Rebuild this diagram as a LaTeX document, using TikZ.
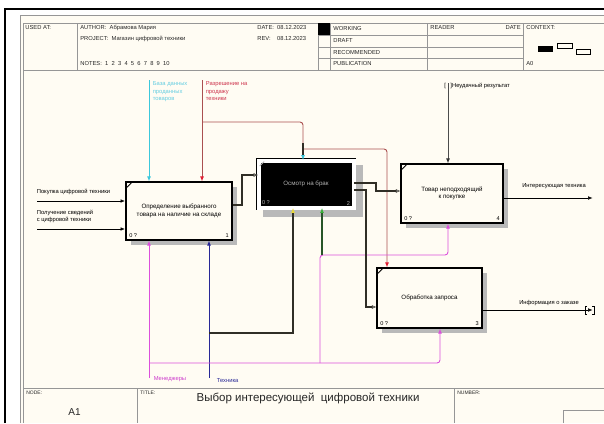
\documentclass[tikz,border=0pt]{standalone}
\newcommand{\boxmarks}[3]{%
  \node[boxnum, text=#3, anchor=south west] (#1cost) at ($(#1.south west)+(2.5,-1.5)$) {0 ?};
  \node[boxnum, text=#3, anchor=south east] (#1num) at ($(#1.south east)+(-2.5,-1.5)$) {#2};
  \draw[#3, line width=0.9pt] ($(#1.north west)+(1.5,6)$) -- ($(#1.north west)+(6,1.5)$);
}
\usepackage{fontspec}
\setmainfont{Liberation Sans}
\usepackage{tikz}
\usetikzlibrary{
  arrows.meta,
  calc,
  positioning,
  shadows
}

\definecolor{paper}{RGB}{255,252,243}
\definecolor{gridgray}{RGB}{150,150,150}
\definecolor{ctrlcyan}{RGB}{60,200,220}
\definecolor{labcyan}{RGB}{100,205,225}
\definecolor{ctrlred}{RGB}{170,80,80}
\definecolor{tipred}{RGB}{225,30,50}
\definecolor{labred}{RGB}{205,50,75}
\definecolor{mechmag}{RGB}{220,80,220}
\definecolor{labmag}{RGB}{205,60,205}
\definecolor{mechblue}{RGB}{40,40,150}
\definecolor{heavy}{RGB}{48,46,38}
\definecolor{heavygreen}{RGB}{40,85,40}
\definecolor{tipgreen}{RGB}{60,175,60}
\definecolor{tipyellow}{RGB}{230,215,60}

\begin{document}
\begin{tikzpicture}[x=1pt, y=-1pt]

\tikzset{
  fnbox/.style={
    draw,
    rectangle,
    fill=paper,
    line width=1.2pt,
    align=center,
    font=\fontsize{6.2}{7.6}\selectfont,
    drop shadow={shadow xshift=5pt, shadow yshift=-5pt, fill=gray!55, opacity=1}
  },
  selbox/.style={
    draw=black,
    rectangle,
    fill=black,
    double=white,
    double distance=4pt,
    line width=0.7pt,
    text=gray!60,
    align=center,
    font=\fontsize{6.2}{7.6}\selectfont
  },
  boxnum/.style={font=\fontsize{5.6}{6}\selectfont, inner sep=1pt},
  lbl/.style={font=\fontsize{5.8}{7.4}\selectfont, inner sep=0.5pt, align=left},
  hdr/.style={font=\fontsize{5.8}{7}\selectfont, inner sep=0pt, anchor=west, text=black!85},
  tipin/.style={-{Latex[length=5pt, width=4pt, color=#1]}},
  colline/.style={draw=#1, line width=0.9pt},
  heavyline/.style={draw=heavy, line width=2.3pt},
  opentip/.style={-{Latex[open, length=4.5pt, width=4pt, line width=0.6pt, fill=white]}},
  >={Latex[length=5pt, width=4pt]},
  line width=0.7pt
}

\useasboundingbox (0,0) rectangle (604,423);

% FRAME ----------------------------------------------------------

\fill[white] (0,0) rectangle (604,423);
\fill[paper] (20,15) rectangle (604,423);
\draw[line width=2.6pt] (5,423) -- (5,9) -- (604,9);
\draw[gridgray] (20,423) -- (20,15) -- (604,15);
\draw[gridgray] (23,423) -- (23,23) -- (604,23);

% header grid
\draw[gridgray] (23,70) -- (604,70);
\foreach \hx in {77,318,330,427,523}
  \draw[gridgray] (\hx,23) -- (\hx,70);
\foreach \hy in {35,47,58}
  \draw[gridgray] (318,\hy) -- (523,\hy);
\fill[black] (318,23) rectangle (330,35);

% context pictogram
\fill[black] (538,46) rectangle (553,52);
\draw[line width=0.5pt] (557,43) rectangle (572,48);
\draw[line width=0.5pt] (576,49) rectangle (590,54);

% footer grid
\draw[gridgray] (23,388) -- (604,388);
\draw[gridgray] (137,388) -- (137,423);
\draw[gridgray] (454,388) -- (454,423);
\draw[gridgray] (563,423) -- (563,410) -- (604,410);

% header texts
\node[hdr] (usedat)  at (25,28)  {USED AT:};
\node[hdr] (author)  at (80,28)  {AUTHOR:\ \ Абрамова Мария};
\node[hdr] (project) at (80,39)  {PROJECT:\ \ Магазин цифровой техники};
\node[hdr] (notes)   at (80,64)  {NOTES:\ \ 1\ \ 2\ \ 3\ \ 4\ \ 5\ \ 6\ \ 7\ \ 8\ \ 9\ \ 10};
\node[hdr] (date)    at (257,28) {DATE:\ \ 08.12.2023};
\node[hdr] (rev)     at (257,39) {REV:\ \ \ \ 08.12.2023};
\node[hdr] (working) at (333,29) {WORKING};
\node[hdr] (draft)   at (333,41) {DRAFT};
\node[hdr] (recomm)  at (333,52.5) {RECOMMENDED};
\node[hdr] (public)  at (333,64) {PUBLICATION};
\node[hdr] (reader)  at (430,28) {READER};
\node[hdr, anchor=east] (rdate) at (521,28) {DATE};
\node[hdr] (context) at (526,28) {CONTEXT:};
\node[hdr] (ctxa)    at (526,64) {A0};

% footer texts
\node[hdr, font=\fontsize{5}{6}\selectfont] (nodelab)  at (26,393) {NODE:};
\node[hdr, font=\fontsize{10}{12}\selectfont] (nodenum) at (68,412) {A1};
\node[hdr, font=\fontsize{5}{6}\selectfont] (titlelab) at (140,393) {TITLE:};
\node[hdr, font=\fontsize{11.5}{13}\selectfont, anchor=center] (title) at (308,398) {Выбор интересующей\ \ цифровой техники};
\node[hdr, font=\fontsize{5}{6}\selectfont] (numlab)   at (457,393) {NUMBER:};

% NODES ----------------------------------------------------------

% shadow of the selected box
\fill[gray!55] (263,165) rectangle (363,217);

% Function boxes
\node[fnbox, minimum width=106pt, minimum height=58pt] (opred) at (179,211)
  {Определение выбранного\\товара на наличие на складе};
\node[selbox, minimum width=95pt, minimum height=47pt] (osmotr) at (306,184)
  {Осмотр на брак};
\node[fnbox, minimum width=102pt, minimum height=59pt] (tovar) at (452,193.5)
  {Товар неподходящий\\к покупке};
\node[fnbox, minimum width=105pt, minimum height=60pt] (obrab) at (429.5,298)
  {Обработка запроса};

\boxmarks{opred}{1}{black}
\boxmarks{osmotr}{2}{gray!60}
\boxmarks{tovar}{4}{black}
\boxmarks{obrab}{3}{black}

% Free ends and bends
\coordinate (inbuy)    at (37,201);
\coordinate (ininfo)   at (37,229);
\coordinate (ctrldb)   at (149,80);
\coordinate (ctrlperm) at (202,80);
\coordinate (permsplit) at (202,122);
\coordinate (permjoin) at (303,149);
\coordinate (permdrop) at (387,149);
\coordinate (ctrlfail) at (448,83);
\coordinate (outint)   at (593,198);
\coordinate (outinfo)  at (593,310);
\coordinate (mechmgr)  at (149,378);
\coordinate (mechtech) at (209,378);
\coordinate (mgrsplit) at (149,363);
\coordinate (mgrrise)  at (320,363);
\coordinate (mgrjoin)  at (320,255);
\coordinate (mgrbox)   at (440,363);
\coordinate (mgrtovar) at (448,255);
\coordinate (greenfoot) at (322,255);
\coordinate (techsplit) at (209,333);
\coordinate (techrise) at (293,333);
\coordinate (outa)     at (242,205);
\coordinate (outb)     at (242,175);
\coordinate (outc)     at (376,183);
\coordinate (outd)     at (376,191);
\coordinate (oute)     at (366,190);
\coordinate (outf)     at (366,307);

% Labels
\node[lbl, anchor=west] (buylab) at (36,192) {Покупка цифровой техники};
\node[lbl, anchor=north west] (infolab) at (36,209) {Получение сведений\\с цифровой техники};
\node[lbl, anchor=north west, text=labcyan] (dblab) at (152,81) {База данных\\проданных\\товаров};
\node[lbl, anchor=north west, text=labred] (permlab) at (205,81) {Разрешение на\\продажу\\техники};
\node[lbl, anchor=west] (faillab) at (443.5,86) {[\hspace{4.5pt}]Неудачный результат};
\node[lbl] (intlab) at (554,186) {Интересующая техника};
\node[lbl] (orderlab) at (549,303) {Информация о заказе};
\node[lbl, anchor=west, text=labmag] (mgrlab) at (153,379) {Менеджеры};
\node[lbl, anchor=west, text=mechblue] (techlab) at (216,381) {Техника};

% DRAWS ---------------------------------------------------------

% Inputs
\draw[->] (inbuy) -- (inbuy -| opred.west);
\draw[->] (ininfo) -- (ininfo -| opred.west);

% Controls
\draw[colline=ctrlcyan, tipin=ctrlcyan] (ctrldb) -- (ctrldb |- opred.north);
\draw[colline=ctrlred, tipin=tipred] (ctrlperm) -- (ctrlperm |- opred.north);
\draw[colline=ctrlred, rounded corners=3pt] (permsplit) -- (permsplit -| permjoin) -- ($(permjoin)+(0,-6)$);
\draw[colline=ctrlred, rounded corners=3pt, tipin=tipred] (permjoin) -- (permdrop) -- (permdrop |- obrab.north);
\draw[heavyline, tipin=ctrlcyan] ($(permjoin)+(0,-6)$) -- (permjoin |- osmotr.north);
\draw[colline=black!70, tipin=black!80] (ctrlfail) -- (ctrlfail |- tovar.north);

% Mechanisms
\draw[colline=mechmag, tipin=mechmag] (mechmgr) -- (mechmgr |- opred.south);
\draw[colline=mechblue, tipin=mechblue] (mechtech) -- (mechtech |- opred.south);
\draw[colline=mechmag, rounded corners=3pt, tipin=mechmag] (mgrsplit) -- (mgrbox) -- (mgrbox |- obrab.south);
\draw[colline=mechmag, rounded corners=3pt, tipin=mechmag] (mgrrise) -- (mgrjoin) -- (mgrtovar) -- (mgrtovar |- tovar.south);
\draw[heavyline, draw=heavygreen, tipin=tipgreen] (greenfoot) -- (greenfoot |- osmotr.south);
\draw[heavyline, tipin=tipyellow] (techsplit) -- (techrise) -- (techrise |- osmotr.south);

% Outputs between boxes
\draw[heavyline, opentip] (opred.east |- outa) -- (outa) -- (outb) -- (outb -| osmotr.west);
\draw[heavyline, opentip] (osmotr.east |- outc) -- (outc) -- (outd) -- (outd -| tovar.west);
\draw[heavyline, opentip] (osmotr.east |- oute) -- (oute) -- (outf) -- (outf -| obrab.west);

% Outputs
\draw[->] (tovar.east |- outint) -- (outint);
\draw[->] (obrab.east |- outinfo) -- (outinfo);
\draw[line width=0.5pt] ($(outinfo)+(-6,-4)$) -- ++(-2,0) -- ++(0,8) -- ++(2,0);
\draw[line width=0.5pt] ($(outinfo)+(-1,-4)$) -- ++(2,0) -- ++(0,8) -- ++(-2,0);

\end{tikzpicture}
\end{document}
